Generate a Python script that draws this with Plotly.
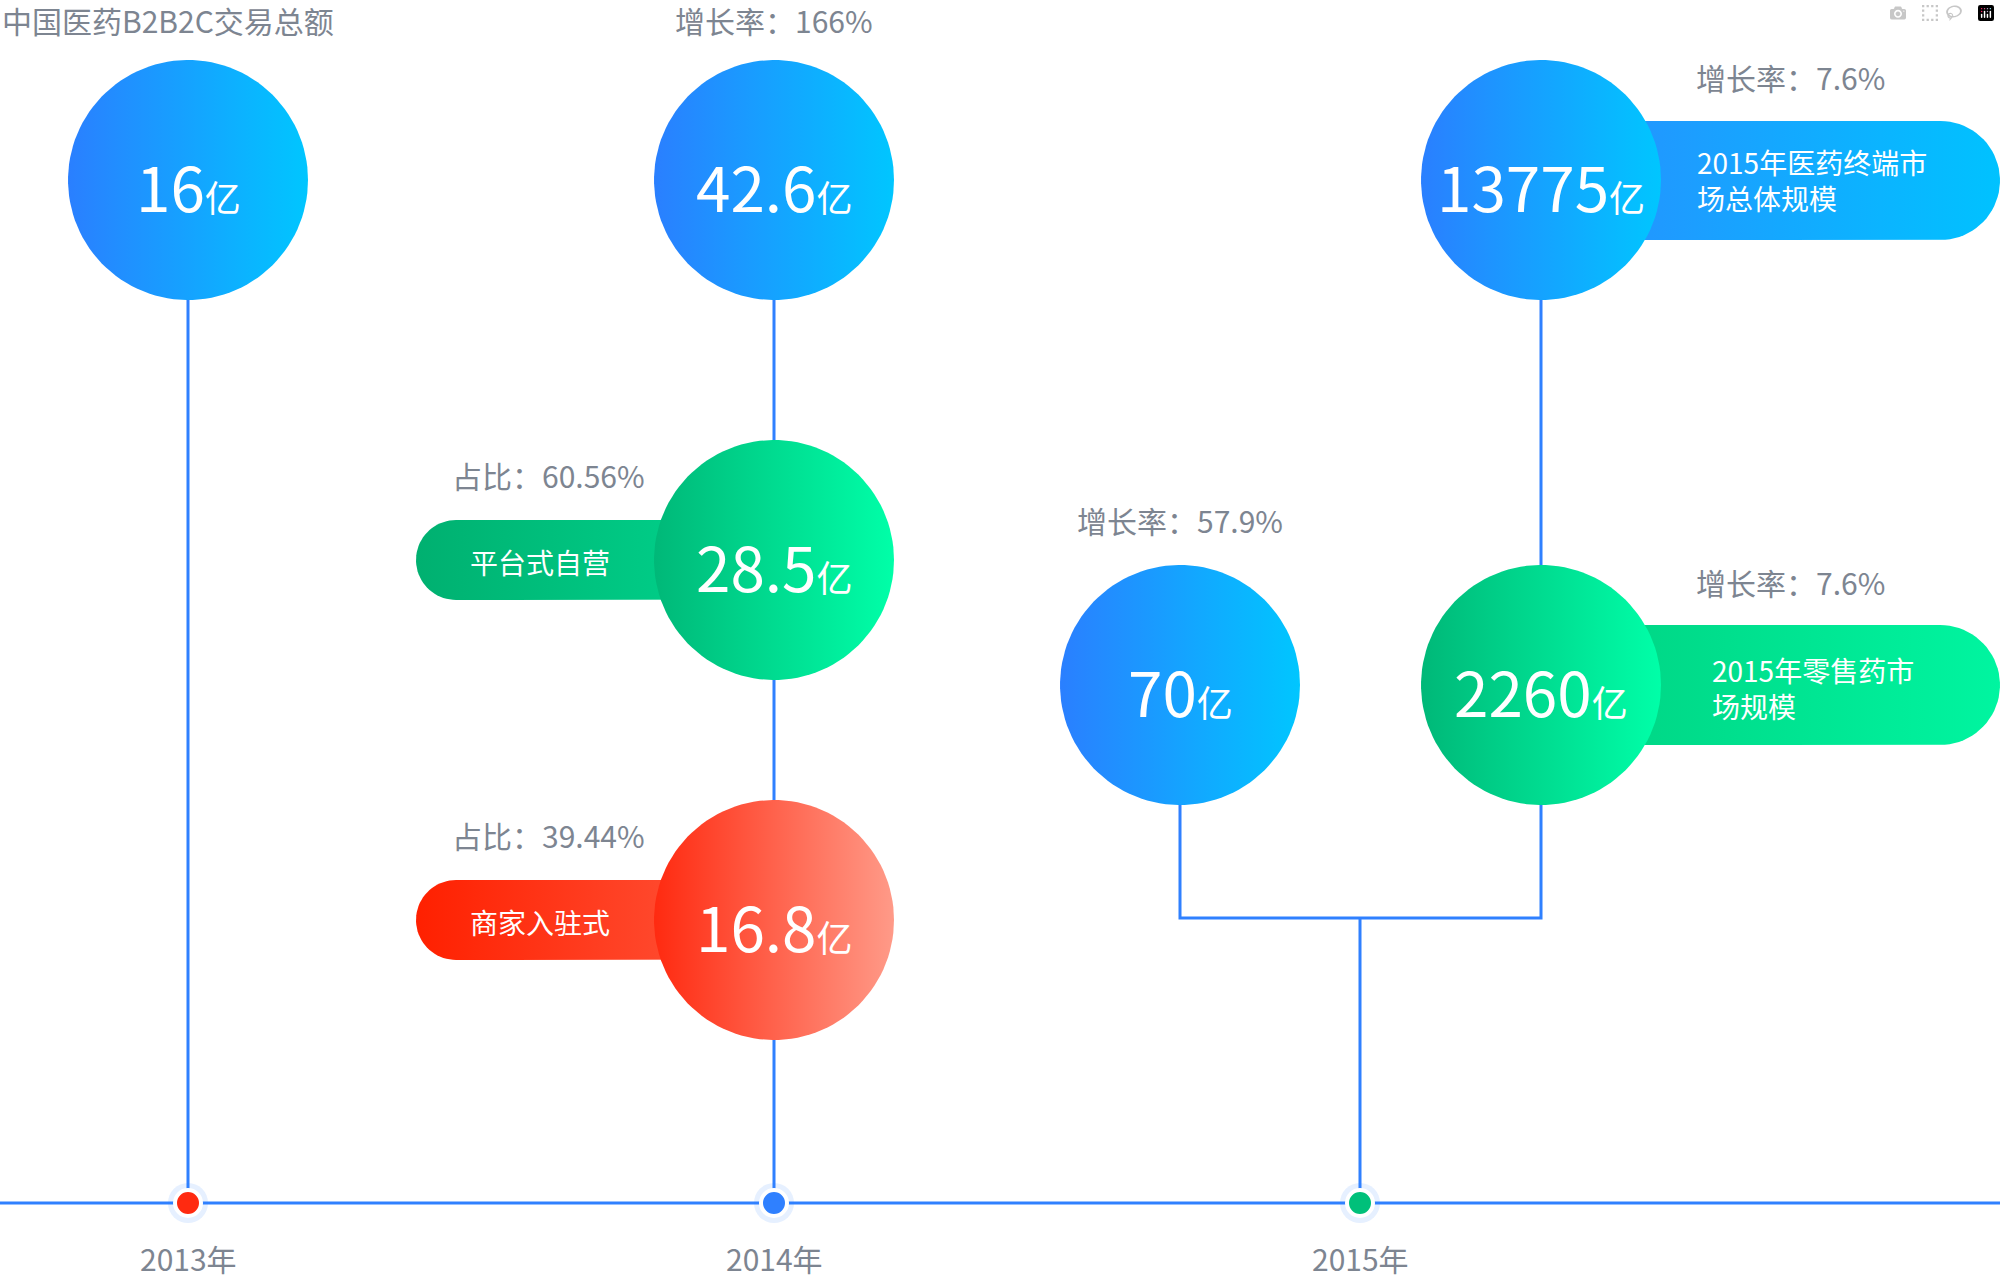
import numpy as np
import plotly.graph_objects as go

years = ["2013年", "2014年", "2015年"]
year_x = [188, 774, 1360]
year_dot_colors = ["#ff2a10", "#2f80ff", "#00c07a"]

bubble_values = ["16", "42.6", "28.5", "16.8", "70", "13775", "2260"]
bubble_x = [188, 774, 774, 774, 1180, 1541, 1541]
bubble_y = [180, 180, 560, 920, 685, 180, 685]
bubble_kind = ["blue", "blue", "green", "red", "blue", "blue", "green"]
top_notes = ["中国医药B2B2C交易总额", "增长率：166%", "占比：60.56%", "占比：39.44%",
             "增长率：57.9%", "增长率：7.6%", "增长率：7.6%"]

pill_text = ["平台式自营", "商家入驻式", "2015年医药终端市<br>场总体规模", "2015年零售药市<br>场规模"]

grads = {
    "blue": ["#2a7fff", "#00c6ff"],
    "green": ["#00b878", "#00ffa8"],
    "red": ["#ff2a10", "#ff9a88"],
}
R = 120
LINE = "#2f80ff"
GRAY = "#7d8591"

fig = go.Figure()

def seg(xs, ys):
    fig.add_trace(go.Scatter(x=xs, y=ys, mode="lines", line=dict(color=LINE, width=3),
                             hoverinfo="skip", showlegend=False))

seg([0, 2000], [1203, 1203])
seg([188, 188], [180, 1203])
seg([774, 774], [180, 1203])
seg([1180, 1180, 1541, 1541], [685, 918, 918, 180])
seg([1360, 1360], [918, 1203])

def pill(x0, x1, y0, y1, c0, c1):
    r = (y1 - y0) / 2
    t = np.linspace(np.pi / 2, 3 * np.pi / 2, 40)
    xs = list(x0 + r + r * np.cos(t)) + [x1 - r + r * np.cos(a) for a in np.linspace(-np.pi / 2, np.pi / 2, 40)]
    ys = list((y0 + y1) / 2 - r * np.sin(t)) + [(y0 + y1) / 2 - r * np.sin(a) for a in np.linspace(-np.pi / 2, np.pi / 2, 40)]
    fig.add_trace(go.Scatter(x=xs, y=ys, fill="toself", mode="lines", line=dict(width=0),
                             fillgradient=dict(type="horizontal", colorscale=[[0, c0], [1, c1]]),
                             hoverinfo="skip", showlegend=False))

pill(416, 774, 520, 600, "#00b070", "#00d890")
pill(416, 774, 880, 960, "#ff2000", "#ff5a40")
pill(1541, 2000, 121, 240, "#2a8cff", "#00c2ff")
pill(1541, 2000, 625, 745, "#00d080", "#00f5a0")

t = np.linspace(0, 2 * np.pi, 120)
for x, y, k in zip(bubble_x, bubble_y, bubble_kind):
    fig.add_trace(go.Scatter(x=x + R * np.cos(t), y=y + R * np.sin(t), fill="toself", mode="lines",
                             line=dict(width=0),
                             fillgradient=dict(type="horizontal", colorscale=[[0, grads[k][0]], [1, grads[k][1]]]),
                             hoverinfo="skip", showlegend=False))

fig.add_trace(go.Scatter(x=year_x, y=[1203] * 3, mode="markers",
                         marker=dict(size=40, color="rgba(47,128,255,0.12)"), hoverinfo="skip", showlegend=False))
fig.add_trace(go.Scatter(x=year_x, y=[1203] * 3, mode="markers",
                         marker=dict(size=26, color=year_dot_colors, line=dict(color="white", width=4)),
                         hoverinfo="skip", showlegend=False))

font = "Noto Sans CJK SC"
ann = []
for x, y, v in zip(bubble_x, bubble_y, bubble_values):
    ann.append(dict(x=x, y=y + 5, text=f"{v}<span style='font-size:36px'>亿</span>",
                    font=dict(size=62, color="white", family=font), showarrow=False))
note_pos = [(0, 20, "left"), (774, 20, "center"), (548, 475, "center"), (548, 835, "center"),
            (1180, 520, "center"), (1790, 77, "center"), (1790, 582, "center")]
for (x, y, a), n in zip(note_pos, top_notes):
    ann.append(dict(x=x, y=y, text=n, xanchor=a, font=dict(size=30, color=GRAY, family=font), showarrow=False))
pill_pos = [(540, 562, "center"), (540, 922, "center"), (1695, 180, "left"), (1710, 688, "left")]
for (x, y, a), p in zip(pill_pos, pill_text):
    ann.append(dict(x=x, y=y, text=p, xanchor=a, align="left",
                    font=dict(size=28, color="white", family=font), showarrow=False))
for x, yr in zip(year_x, years):
    ann.append(dict(x=x, y=1258, text=yr, font=dict(size=30, color=GRAY, family=font), showarrow=False))

fig.update_layout(width=2000, height=1280, margin=dict(l=0, r=0, t=0, b=0),
                  plot_bgcolor="white", paper_bgcolor="white", annotations=ann,
                  xaxis=dict(range=[0, 2000], visible=False, fixedrange=True),
                  yaxis=dict(range=[1280, 0], visible=False, fixedrange=True))
fig.write_html("out.html", post_script="document.body.style.margin='0';document.body.style.overflow='hidden';")
